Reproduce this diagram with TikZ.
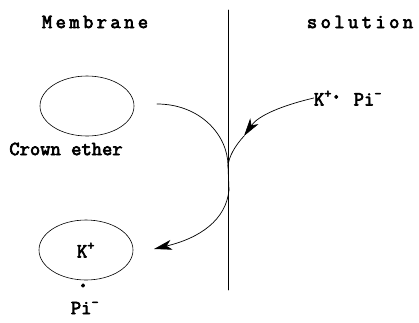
\documentclass[tikz,border=0pt]{standalone}
\usepackage{fontspec}
\newfontfamily\courb{Latin Modern Mono}[FakeBold=3.5]
\newfontfamily\courw{Latin Modern Mono}[FakeBold=3.5,LetterSpace=17]
\newcommand{\bigdot}{{\fontsize{28}{22}\selectfont ·}}
\usetikzlibrary{arrows.meta,shapes.geometric}

\tikzset{
  lbl/.style={font=\courb\fontsize{20}{22}\selectfont,inner sep=0pt},
  wide/.style={lbl,font=\courw\fontsize{20}{22}\selectfont},
  ring/.style={draw,ellipse,minimum width=94pt,minimum height=60pt,inner sep=0pt,line width=0.6pt},
  path/.style={line width=0.7pt},
  tip/.style={-{Stealth[length=18pt,width=10pt,inset=5pt]}}
}

\begin{document}
\begin{tikzpicture}[x=1pt,y=-1pt,line cap=round,line join=round]
\useasboundingbox (0,0) rectangle (419,322);
% membrane wall
\draw[line width=0.8pt] (228,10) -- (228,290);
\node[wide] (mem) at (95,22) {Membrane};
\node[wide] (sol) at (360,22) {solution};
% crown ether, empty and loaded
\node[ring] (ce) at (87,106) {};
\node[lbl] (cename) at (66,149) {Crown ether};
\node[ring,lbl,draw,ellipse,minimum width=94pt,minimum height=60pt] (cek) at (86,250) {K\textsuperscript{+}};
\node[lbl] (dot) at (83,289) {\bigdot};
\node[lbl] (pi) at (85,308) {Pi\textsuperscript{-}};
\node[lbl] (kpi) at (348,98) {K\textsuperscript{+}\kern-3pt\bigdot{} Pi\textsuperscript{-}};
% transport arrows
\coordinate (a0) at (157,104);
\coordinate (j) at (228,166);
\coordinate (m) at (244,136);
\coordinate (j2) at (229,190);
\coordinate (b) at (154,249);
\draw[path] (a0) .. controls (200,104) and (228,135) .. (j);
\draw[path,tip] (kpi.west) .. controls (280,106) and (258,116) .. (m);
\draw[path] (m) .. controls (235,146) and (229,156) .. (j);
\draw[path] (j) -- (j2);
\draw[path,tip] (j2) .. controls (226,220) and (200,238) .. (b);
\end{tikzpicture}
\end{document}
